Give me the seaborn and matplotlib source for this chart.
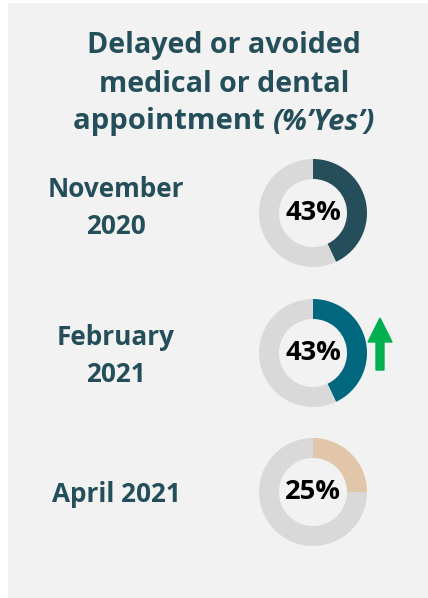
import matplotlib
matplotlib.use("Agg")
import matplotlib.pyplot as plt
import seaborn as sns
from matplotlib.patches import Rectangle, FancyArrow

# Data
periods = ["November\n2020", "February\n2021", "April 2021"]
pct_yes = [43, 43, 25]
ring_colors = ["#254e5a", "#00677f", "#e2c6a9"]
title_lines = ["Delayed or avoided", "medical or dental"]
title_last = ("appointment ", "(%\u2019Yes\u2019)")

sns.set_theme(style="white")
plt.rcParams['font.family'] = ['Open Sans', 'DejaVu Sans']

W, H = 428, 598
fig = plt.figure(figsize=(W / 100, H / 100), dpi=100, facecolor="white")
bg = fig.add_axes([0, 0, 1, 1])
bg.set_xlim(0, W)
bg.set_ylim(H, 0)
bg.axis("off")
bg.add_patch(Rectangle((8, 3), W - 8, H - 3, facecolor="#f2f2f2", edgecolor="none"))
renderer = fig.canvas.get_renderer()


def text_width(t):
    return t.get_window_extent(renderer).width


def fit(t, target):
    # scale font so the text spans the target width in pixels
    t.set_fontsize(t.get_fontsize() * target / text_width(t))
    return t


txt_col = "#244e5a"
t1 = bg.text(224, 45, title_lines[0], ha="center", va="center", fontsize=20,
             fontweight="bold", color=txt_col)
fit(t1, 275)
fs = t1.get_fontsize()
bg.text(224, 84, title_lines[1], ha="center", va="center", fontsize=fs,
        fontweight="bold", color=txt_col)
ta = bg.text(0, 122, title_last[0], ha="left", va="center", fontsize=fs,
             fontweight="bold", color=txt_col)
tb = bg.text(0, 122, title_last[1], ha="left", va="center", fontsize=fs,
             fontweight="bold", style="italic", color=txt_col)
fit(ta, text_width(ta) * 1.02)
tb.set_fontsize(ta.get_fontsize())
wa, wb = text_width(ta), text_width(tb)
x0 = 224 - (wa + wb) / 2
ta.set_x(x0)
tb.set_x(x0 + wa)

probe = bg.text(0, 0, "November", fontsize=18, fontweight="bold")
lab_fs = fit(probe, 137).get_fontsize()
probe.remove()
probe = bg.text(0, 0, "43%", fontsize=18, fontweight="bold")
pct_fs = fit(probe, 56).get_fontsize()
probe.remove()

centers_y = [213, 353, 492]
label_y = [208, 356, 494]
cx, r = 313, 54
for lab, p, col, cy, ly in zip(periods, pct_yes, ring_colors, centers_y, label_y):
    bg.text(116, ly, lab, ha="center", va="center", fontsize=lab_fs, fontweight="bold",
            color=txt_col, linespacing=1.45)
    ax = fig.add_axes([(cx - r) / W, 1 - (cy + r) / H, 2 * r / W, 2 * r / H])
    ax.pie([p, 100 - p], colors=[col, "#d9d9d9"], startangle=90, counterclock=False,
           radius=1, wedgeprops=dict(width=0.37, edgecolor="none"))
    ax.set_xlim(-1, 1)
    ax.set_ylim(-1, 1)
    ax.set_aspect("equal")
    ax.axis("off")
    ax.text(0, 0, f"{p}%", ha="center", va="center", fontsize=pct_fs, fontweight="bold",
            color="black")

# up arrow for February
bg.add_patch(FancyArrow(380, 370, 0, -52, width=8, head_width=24, head_length=24,
                        length_includes_head=True, color="#00b050"))

fig.savefig("out.png", dpi=100, facecolor="white")
